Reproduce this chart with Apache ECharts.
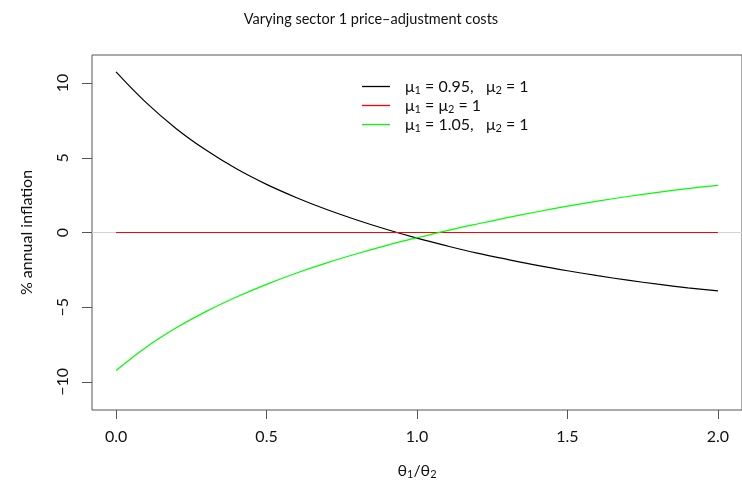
<!DOCTYPE html>
<html>
<head>
<meta charset="utf-8">
<script src="https://cdn.jsdelivr.net/npm/echarts@6/dist/echarts.min.js"></script>
<style>
  html, body { margin: 0; padding: 0; background: #fff; }
  #chart { width: 742px; height: 487px; }
</style>
</head>
<body>
<div id="chart"></div>
<script>
// theta1/theta2 grid
const thetaRatio = [0, 0.1, 0.2, 0.3, 0.4, 0.5, 0.6, 0.7, 0.8, 0.9, 1.0,
  1.1, 1.2, 1.3, 1.4, 1.5, 1.6, 1.7, 1.8, 1.9, 2.0];
// mu1 = 0.95, mu2 = 1
const lowMu = [10.75, 8.69, 6.95, 5.5, 4.26, 3.22, 2.33, 1.54, 0.84, 0.2, -0.38,
  -0.9, -1.38, -1.8, -2.2, -2.56, -2.89, -3.19, -3.46, -3.7, -3.91];
// mu1 = mu2 = 1
const equalMu = [0, 0, 0, 0, 0, 0, 0, 0, 0, 0, 0,
  0, 0, 0, 0, 0, 0, 0, 0, 0, 0];
// mu1 = 1.05, mu2 = 1
const highMu = [-9.24, -7.68, -6.38, -5.28, -4.32, -3.47, -2.71, -2.03, -1.42, -0.86, -0.35,
  0.13, 0.57, 0.99, 1.39, 1.76, 2.1, 2.41, 2.69, 2.94, 3.16];

const xTicks = [0, 0.5, 1, 1.5, 2];
const yTicks = [-10, -5, 0, 5, 10];
const names = ['μ1 = 0.95,   μ2 = 1', 'μ1 = μ2 = 1', 'μ1 = 1.05,   μ2 = 1'];

const font = 'Lato';
const pairs = vals => thetaRatio.map((x, i) => [x, vals[i]]);
// "μ1" -> μ with subscript 1 (rich text)
const subscript = s => s.split(/([μθ])([12])/).map((p, i) =>
  i % 3 === 1 ? '{t|' + p + '}' : i % 3 === 2 ? '{s|' + p + '}' : (p ? '{t|' + p + '}' : '')
).join('');

const richText = {
  t: { fontFamily: font, fontSize: 16, color: '#111', lineHeight: 19, verticalAlign: 'middle' },
  s: { fontFamily: font, fontSize: 11, color: '#111', lineHeight: 13, verticalAlign: 'bottom' }
};

const myChart = echarts.init(document.getElementById('chart'));

function lineSeries(name, vals, color) {
  return {
    name: name,
    type: 'line',
    data: pairs(vals),
    symbol: 'none',
    smooth: 0.4,
    z: 3,
    lineStyle: { color: color, width: 1.2 },
    itemStyle: { color: color }
  };
}

myChart.setOption({
  animation: false,
  textStyle: { fontFamily: font },
  title: {
    text: 'Varying sector 1 price–adjustment costs',
    left: 'center',
    top: 7,
    textStyle: { fontFamily: font, fontSize: 14.5, fontWeight: 'normal', color: '#111' }
  },
  legend: {
    orient: 'vertical',
    left: 357,
    top: 72,
    itemGap: 0,
    itemWidth: 28,
    itemHeight: 1.3,
    icon: 'rect',
    data: names,
    formatter: name => subscript(name),
    textStyle: {
      fontFamily: font,
      fontSize: 16,
      color: '#111',
      lineHeight: 19,
      padding: [0, 0, 0, 10],
      rich: richText
    }
  },
  grid: { left: 92, top: 55, width: 661, height: 355, show: true, borderColor: '#555', borderWidth: 1 },
  xAxis: {
    type: 'value',
    min: -0.08,
    max: 2.08,
    name: subscript('θ1/θ2'),
    nameLocation: 'middle',
    nameGap: 51,
    nameTextStyle: { fontFamily: font, fontSize: 16, color: '#111', rich: richText },
    axisLine: { show: false, onZero: false },
    splitLine: { show: false },
    axisTick: { show: true, inside: false, length: 9, customValues: xTicks, lineStyle: { color: '#555' } },
    axisLabel: {
      customValues: xTicks,
      margin: 19,
      fontFamily: font,
      fontSize: 16,
      color: '#111',
      formatter: v => v.toFixed(1)
    }
  },
  yAxis: {
    type: 'value',
    min: -11.88,
    max: 11.88,
    name: '% annual inflation',
    nameLocation: 'middle',
    nameGap: 57,
    nameRotate: 90,
    nameTextStyle: { fontFamily: font, fontSize: 16, color: '#111' },
    axisLine: { show: false, onZero: false },
    splitLine: { show: false },
    axisTick: { show: true, inside: false, length: 10, customValues: yTicks, lineStyle: { color: '#555' } },
    axisLabel: {
      customValues: yTicks,
      rotate: 90,
      margin: 21,
      fontFamily: font,
      fontSize: 16,
      color: '#111',
      formatter: v => String(v).replace('-', '−')
    }
  },
  series: [
    {
      name: 'zero',
      type: 'line',
      data: [],
      z: 1,
      silent: true,
      markLine: {
        z: 1,
        silent: true,
        symbol: 'none',
        label: { show: false },
        lineStyle: { color: '#d3d3d3', type: 'solid', width: 1 },
        data: [{ yAxis: 0 }]
      }
    },
    lineSeries(names[0], lowMu, '#000000'),
    lineSeries(names[1], equalMu, '#ff0000'),
    lineSeries(names[2], highMu, '#00ff00')
  ]
});
</script>
</body>
</html>
